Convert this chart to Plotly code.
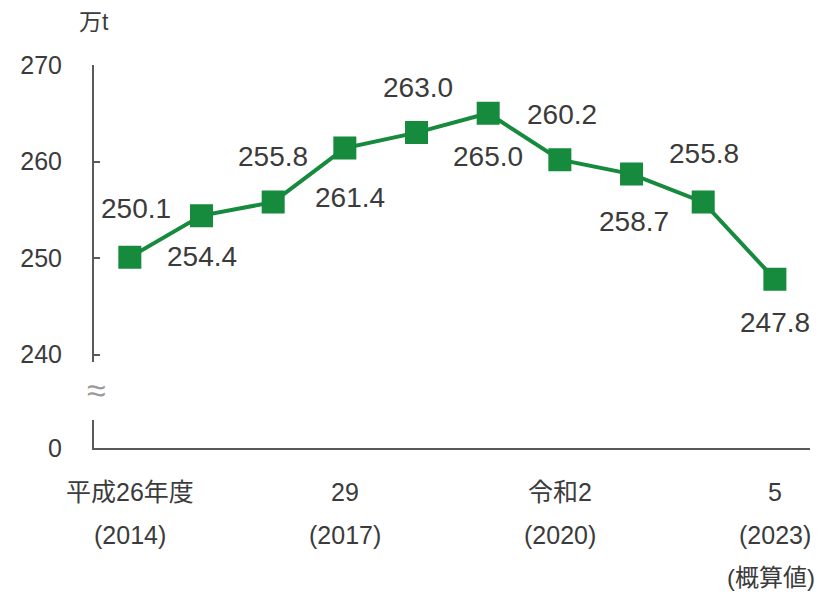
import plotly.graph_objects as go

# fiscal years 2014-2023, unit: 10,000 t
years = list(range(2014, 2024))
values = [250.1, 254.4, 255.8, 261.4, 263.0, 265.0, 260.2, 258.7, 255.8, 247.8]

# labelled ticks on the x axis (index into years, text lines)
tick_idx = [0, 3, 6, 9]
tick_lines = [
    ["平成26年度", "(2014)"],
    ["29", "(2017)"],
    ["令和2", "(2020)"],
    ["5", "(2023)", "(概算値)"],
]

# pixel offsets of the value labels relative to each marker
label_dx = [6, 0, 0, 5, 1, 0, 2, 2, 1, 0]
label_dy = [49, -41, 46, -49, 45, -43, 45, -47, 49, -43]

GREEN = "#168a3d"
TEXT = "#3b3b3b"
AXIS = "#5a5a5a"
FONT = "Liberation Sans, Arial, Noto Sans CJK JP, sans-serif"

# the page body adds an 8 px margin, so the figure is drawn 8 px smaller
W, H = 815, 584
M_L, M_R, M_T, M_B = 80, 13, 56.5, 144
plot_h = H - M_T - M_B

xs = list(range(len(years)))

fig = go.Figure()
fig.add_scatter(
    x=xs,
    y=values,
    mode="lines+markers",
    line={"color": GREEN, "width": 4},
    marker={"symbol": "square", "size": 23, "color": GREEN},
    showlegend=False,
    hoverinfo="skip",
)
# invisible trace so the lower (zero) axis segment is drawn
fig.add_scatter(
    x=[xs[0]], y=[0], yaxis="y2", mode="markers",
    marker={"size": 1, "opacity": 0}, showlegend=False, hoverinfo="skip",
)

for i, v in enumerate(values):
    fig.add_annotation(
        x=i, y=v, xref="x", yref="y",
        text=f"{v:.1f}", showarrow=False,
        xshift=label_dx[i], yshift=label_dy[i],
        font={"size": 28, "color": TEXT, "family": FONT},
    )

for idx, lines in zip(tick_idx, tick_lines):
    for k, line in enumerate(lines):
        fig.add_annotation(
            x=idx, y=-(44 + 43 * k) / plot_h, xref="x", yref="paper",
            yanchor="middle", text=line, showarrow=False,
            xshift=-4 if k == 2 else 0,
            font={"size": 25 if k < 2 else 24, "color": TEXT, "family": FONT},
        )

# unit label and axis break symbol
fig.add_annotation(
    x=0.0, y=1.111, xref="paper", yref="paper", text="万t",
    showarrow=False, xanchor="center", yanchor="middle",
    font={"size": 23, "color": TEXT, "family": FONT},
)
fig.add_annotation(
    x=0.004, y=0.151, xref="paper", yref="paper", text="≈",
    showarrow=False, xanchor="center", yanchor="middle",
    font={"size": 34, "color": "#9a9a9a", "family": FONT},
)

axis_common = {
    "showgrid": False,
    "zeroline": False,
    "showline": True,
    "linecolor": AXIS,
    "linewidth": 2,
    "fixedrange": True,
}

fig.update_layout(
    width=W,
    height=H,
    margin={"l": M_L, "r": M_R, "t": M_T, "b": M_B, "pad": 0},
    plot_bgcolor="white",
    paper_bgcolor="white",
    font={"family": FONT, "color": TEXT, "size": 25},
    xaxis={
        **axis_common,
        "range": [-0.5, 9.49],
        "showticklabels": False,
        "ticks": "",
        "anchor": "y2",
    },
    yaxis={
        **axis_common,
        "domain": [0.224, 1.0],
        "range": [239.22, 270],
        "tickvals": [240, 250, 260, 270],
        "ticks": "inside",
        "ticklen": 6,
        "tickwidth": 2,
        "tickcolor": AXIS,
        "ticklabelstandoff": 25,
        "tickfont": {"size": 25, "color": TEXT},
        "anchor": "x",
    },
    yaxis2={
        **axis_common,
        "domain": [0.0, 0.073],
        "range": [0, 1],
        "tickvals": [0],
        "ticks": "",
        "ticklabelstandoff": 25,
        "tickfont": {"size": 25, "color": TEXT},
        "anchor": "x",
    },
)

fig.write_html("out.html")
